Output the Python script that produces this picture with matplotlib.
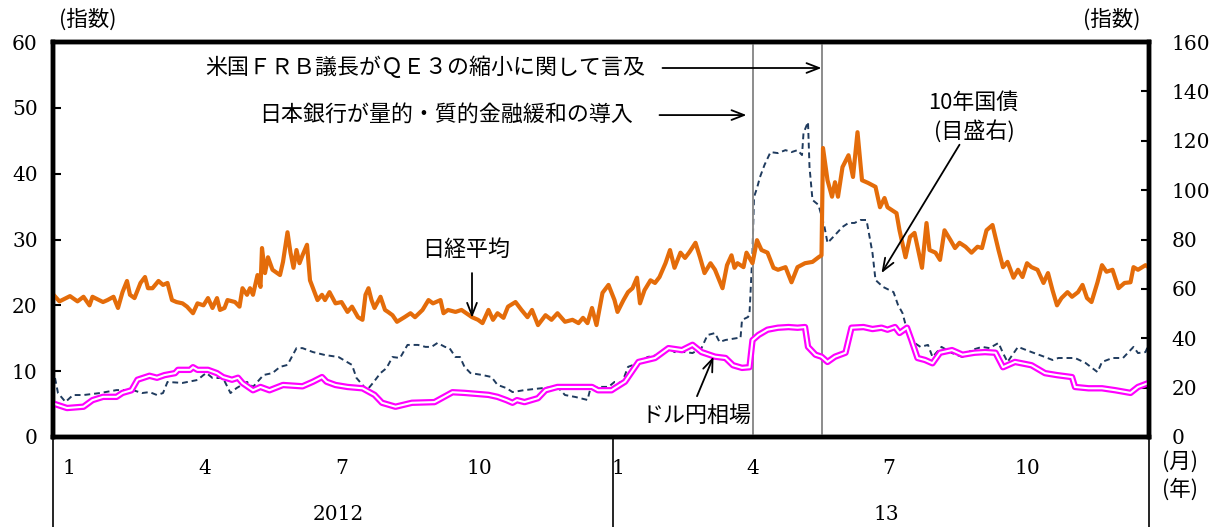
import numpy as np
import matplotlib
matplotlib.use("Agg")
import matplotlib.pyplot as plt

JP = ['Noto Sans CJK JP', 'DejaVu Sans']
NUM = ['DejaVu Serif']

# Days counted from 2012-01-01
nikkei_day = [-7, -3, 4, 9, 13, 17, 19, 26, 29, 33, 36, 39, 42, 44, 47, 51, 54, 56, 59, 63,
              66, 69, 72, 75, 79, 82, 86, 89, 93, 96, 99, 102, 104, 107, 109, 114, 117, 119, 122, 124,
              126, 129, 131, 132, 134, 136, 139, 144, 146, 149, 151, 153, 155, 157, 159, 162, 164, 169, 172, 174,
              177, 181, 185, 189, 192, 196, 199, 201, 203, 205, 207, 211, 214, 216, 219, 222, 227, 231, 234, 239,
              243, 246, 251, 253, 256, 261, 265, 272, 276, 279, 283, 286, 289, 293, 296, 301, 305, 309, 312, 316,
              321, 325, 329, 334, 339, 343, 346, 349, 352, 355, 359, 363, 367, 369, 373, 376, 379, 382, 384, 387,
              391, 394, 397, 401, 404, 407, 411, 414, 417, 421, 424, 427, 431, 434, 439, 442, 445, 447, 449, 453,
              455, 459, 462, 465, 469, 473, 476, 481, 485, 489, 494, 499, 503, 505, 506, 509, 512, 514, 516, 519,
              523, 526, 529, 532, 536, 541, 544, 547, 549, 555, 557, 561, 564, 567, 572, 575, 577, 581, 584, 587,
              591, 594, 597, 601, 605, 609, 612, 615, 619, 623, 626, 629, 633, 636, 639, 642, 645, 649, 653, 656,
              659, 662, 665, 669, 672, 676, 679, 682, 685, 689, 692, 695, 699, 703, 707, 711, 713, 716, 721, 723]
nikkei_vol = [21.6, 20.6, 21.4, 20.6, 21.3, 20.0, 21.3, 20.5, 20.8, 21.3, 19.6, 22.0, 23.7, 21.6, 21.1, 23.4, 24.3, 22.6, 22.6, 23.7,
              23.1, 23.4, 20.8, 20.5, 20.3, 19.8, 18.8, 20.3, 20.0, 21.1, 19.6, 21.1, 19.3, 19.6, 20.8, 20.5, 19.8, 22.6, 21.6, 22.6,
              21.6, 24.6, 22.8, 28.7, 24.9, 27.3, 25.4, 24.6, 26.6, 31.1, 28.0, 25.7, 28.4, 26.4, 27.6, 29.2, 23.8, 20.8, 21.6, 20.8,
              22.0, 20.3, 20.5, 19.0, 19.8, 18.2, 17.8, 21.6, 22.6, 20.8, 19.6, 21.3, 19.3, 19.0, 18.5, 17.5, 18.2, 18.8, 18.2, 19.3,
              20.8, 20.3, 20.8, 18.8, 19.3, 19.0, 19.3, 18.2, 17.8, 17.3, 19.3, 17.8, 18.8, 18.1, 19.8, 20.5, 19.3, 18.2, 19.3, 17.0,
              18.5, 17.8, 18.8, 17.5, 17.8, 17.3, 18.1, 17.3, 19.6, 17.0, 21.9, 23.1, 20.8, 19.0, 20.8, 22.0, 22.6, 24.2, 20.3, 22.3,
              23.8, 23.4, 24.3, 26.4, 28.4, 25.7, 28.0, 27.2, 28.1, 29.5, 27.3, 24.9, 26.4, 25.4, 22.6, 26.1, 27.6, 25.7, 26.4, 25.8,
              28.0, 26.4, 29.9, 28.4, 28.0, 25.7, 25.4, 25.8, 23.5, 25.8, 26.4, 26.6, 27.3, 27.6, 43.9, 39.0, 36.5, 38.7, 36.5, 41.0,
              42.8, 39.5, 46.3, 39.0, 38.6, 38.0, 34.9, 36.3, 34.9, 34.0, 31.4, 27.3, 30.4, 31.0, 25.7, 32.5, 28.4, 28.0, 26.9, 31.4,
              29.9, 28.7, 29.5, 28.9, 28.0, 28.9, 28.7, 31.4, 32.2, 28.4, 25.8, 26.6, 24.2, 25.4, 24.3, 26.4, 25.8, 25.4, 23.4, 24.9,
              22.3, 20.0, 21.1, 22.0, 21.3, 22.0, 23.1, 21.1, 20.5, 23.5, 26.1, 25.1, 25.4, 22.6, 23.4, 23.5, 25.8, 25.4, 26.1, 25.8]

jgb_day = [-6, -4, 1, 6, 13, 24, 35, 46, 52, 57, 62, 66, 69, 79, 89, 93, 95, 99, 106, 111,
           115, 122, 126, 133, 139, 144, 149, 155, 159, 166, 174, 183, 192, 195, 202, 206, 211, 215, 219, 224,
           229, 236, 241, 245, 249, 254, 257, 261, 264, 267, 271, 279, 285, 289, 295, 299, 307, 319, 329, 334,
           341, 349, 351, 356, 363, 367, 372, 376, 383, 389, 396, 403, 407, 414, 419, 425, 429, 434, 437, 441,
           449, 451, 452, 456, 457, 459, 460, 462, 464, 467, 471, 476, 481, 485, 489, 492, 493, 496, 497, 499,
           503, 507, 509, 514, 519, 523, 527, 531, 535, 539, 541, 546, 553, 556, 559, 562, 566, 571, 576, 579,
           585, 592, 599, 605, 612, 617, 623, 626, 629, 636, 645, 654, 659, 663, 674, 681, 689, 692, 699, 706,
           713, 716, 721, 723]
jgb_vol = [23.9, 17.8, 14.2, 17.0, 17.0, 17.8, 19.0, 19.0, 17.8, 18.2, 17.0, 17.8, 22.3, 21.9, 23.1, 25.1, 25.9, 23.9, 23.9, 17.8,
           19.8, 22.3, 20.3, 25.1, 25.9, 28.4, 29.2, 36.0, 36.0, 34.4, 33.2, 32.4, 29.2, 23.9, 19.0, 21.9, 25.9, 27.9, 32.4, 32.0,
           37.3, 37.3, 36.5, 36.5, 38.1, 36.5, 36.0, 32.4, 32.4, 28.4, 25.9, 25.1, 24.3, 21.1, 19.8, 18.2, 19.0, 19.8, 20.3, 17.0,
           16.2, 15.0, 19.8, 20.3, 20.3, 22.3, 21.9, 28.4, 30.0, 32.4, 33.2, 36.0, 34.4, 34.4, 34.0, 36.0, 41.3, 42.1, 38.5, 39.3,
           40.1, 40.1, 47.4, 48.6, 50.0, 75.0, 97.2, 100.8, 105.3, 110.2, 115.4, 115.0, 116.2, 115.4, 116.2, 114.2, 123.1, 127.6, 109.4, 96.0,
           94.0, 85.1, 78.6, 81.8, 85.1, 86.7, 86.7, 87.9, 87.9, 74.5, 63.6, 60.8, 58.7, 53.5, 50.2, 43.3, 38.5, 36.5, 37.3, 32.4,
           36.5, 34.0, 32.4, 35.2, 36.5, 36.0, 38.1, 34.0, 30.4, 36.5, 34.4, 32.4, 31.2, 32.0, 32.0, 30.0, 26.3, 30.4, 32.0, 32.0,
           36.5, 34.0, 34.4, 37.3]

fx_day = [-6, 2, 13, 19, 26, 35, 39, 45, 49, 57, 62, 67, 74, 76, 84, 86, 89, 96, 102, 106,
          112, 116, 119, 126, 131, 137, 146, 159, 166, 172, 175, 181, 189, 199, 207, 212, 221, 232, 247, 259,
          267, 283, 289, 295, 299, 302, 307, 316, 321, 329, 339, 347, 352, 356, 365, 367, 374, 383, 394, 403,
          412, 419, 425, 434, 441, 446, 452, 457, 459, 463, 469, 476, 483, 489, 494, 496, 501, 505, 509, 514,
          521, 525, 533, 539, 545, 549, 554, 557, 562, 565, 569, 574, 579, 584, 592, 599, 607, 614, 621, 626,
          634, 645, 654, 662, 672, 674, 683, 692, 701, 711, 716, 723]
fx_vol = [5.0, 4.4, 4.6, 5.6, 6.1, 6.1, 6.7, 7.1, 8.7, 9.3, 9.0, 9.4, 9.7, 10.2, 10.2, 10.6, 10.2, 10.2, 9.7, 9.1,
          8.7, 9.0, 8.2, 7.1, 7.6, 7.1, 7.9, 7.7, 8.4, 9.1, 8.4, 7.9, 7.6, 7.4, 6.4, 5.2, 4.6, 5.2, 5.3, 6.8,
          6.7, 6.4, 6.1, 5.6, 5.2, 5.6, 5.3, 5.9, 7.1, 7.6, 7.6, 7.6, 7.6, 7.1, 7.1, 7.4, 8.4, 11.4, 12.0, 13.5,
          13.2, 14.0, 12.9, 12.2, 12.0, 10.9, 10.5, 10.6, 14.7, 15.5, 16.3, 16.6, 16.7, 16.6, 16.7, 13.7, 12.5, 12.2, 11.4, 12.2,
          12.8, 16.6, 16.7, 16.4, 16.6, 16.3, 16.7, 15.8, 16.6, 14.7, 12.0, 11.7, 11.2, 12.8, 13.2, 12.5, 12.8, 12.9, 12.8, 10.6,
          11.4, 10.9, 9.7, 9.4, 9.1, 7.6, 7.4, 7.4, 7.1, 6.7, 7.6, 8.2]

# Policy events: BOJ QQE (2013-04-04), Fed tapering remark (2013-05-22)
event_days = [459, 505]

month_labels = ['1', '4', '7', '10', '1', '4', '7', '10']
month_starts = ['2012-01-01', '2012-04-01', '2012-07-01', '2012-10-01',
                '2013-01-01', '2013-04-01', '2013-07-01', '2013-10-01']
year_labels = ['2012', '13']

left_ticks = [0, 10, 20, 30, 40, 50, 60]
right_ticks = [0, 20, 40, 60, 80, 100, 120, 140, 160]

ORANGE = '#E46C0A'
NAVY = '#1F3B5E'
MAGENTA = '#FF00FF'

W, H = 1211, 527
fig = plt.figure(figsize=(W / 100, H / 100), dpi=100)
L, R, T, B = 53, 1149, 42, 437
ax = fig.add_axes([L / W, 1 - B / H, (R - L) / W, (B - T) / H])
ax2 = ax.twinx()
ax.set_zorder(ax2.get_zorder() + 1)
ax.patch.set_visible(False)

x0 = np.datetime64('2012-01-01')
xmin, xmax = -7.33, 723.33
ax.set_xlim(xmin, xmax)
ax.set_ylim(0, 60)
ax2.set_ylim(0, 160)

# series
ax2.plot(jgb_day, jgb_vol, color=NAVY, lw=1.4, dashes=(3, 2))
ax.plot(nikkei_day, nikkei_vol, color=ORANGE, lw=3.0, solid_joinstyle='round')
ax.plot(fx_day, fx_vol, color=MAGENTA, lw=4.6, solid_joinstyle='round')
ax.plot(fx_day, fx_vol, color='white', lw=1.5, solid_joinstyle='round')

for d in event_days:
    ax.axvline(d, color='#8C8C8C', lw=1.4, zorder=1)

# frame and ticks
for ax_ in (ax, ax2):
    for s in ax_.spines.values():
        s.set_linewidth(3.2)
        s.set_color('black')
ax.set_yticks(left_ticks)
ax.set_yticklabels([str(v) for v in left_ticks], family=NUM, fontsize=14.5)
ax2.set_yticks(right_ticks)
ax2.set_yticklabels([str(v) for v in right_ticks], family=NUM, fontsize=14.5)
ax.tick_params(axis='y', direction='in', length=6, width=1.5, pad=11)
ax2.tick_params(axis='y', direction='in', length=6, width=1.5, pad=16)

mpos = [(np.datetime64(m) - x0).astype(int) + 3 for m in month_starts]
ax.set_xticks(mpos)
ax.set_xticklabels(month_labels, family=NUM, fontsize=14.5)
ax.tick_params(axis='x', length=0, pad=16)

xt = ax.get_xaxis_transform()
for d in [xmin, 366, xmax]:
    ax.plot([d, d], [0, -0.24], color='black', lw=1.2, transform=xt, clip_on=False)
ax.text(183, -0.197, year_labels[0], transform=xt, ha='center', va='center', family=NUM, fontsize=14.5)
ax.text(548, -0.197, year_labels[1], transform=xt, ha='center', va='center', family=NUM, fontsize=14.5)

ax.text(1.028, -0.063, '(月)', transform=ax.transAxes, ha='center', va='center', family=JP, fontsize=15.5)
ax.text(1.028, -0.134, '(年)', transform=ax.transAxes, ha='center', va='center', family=JP, fontsize=15.5)
ax.text(0.032, 1.056, '(指数)', transform=ax.transAxes, ha='center', va='center', family=JP, fontsize=15.5)
ax.text(0.966, 1.056, '(指数)', transform=ax.transAxes, ha='center', va='center', family=JP, fontsize=15.5)

# annotations
arrow = dict(arrowstyle='->,head_length=0.9,head_width=0.35', color='black', lw=1.3,
             shrinkA=0, shrinkB=0)
JPS = 15.8
ax.text(241, 56.05, '米国ＦＲＢ議長がＱＥ３の縮小に関して言及', ha='center', va='center',
        family=JP, fontsize=JPS)
ax.annotate('', xy=(event_days[1], 56.05), xytext=(399, 56.05), arrowprops=arrow)
ax.text(255, 48.9, '日本銀行が量的・質的金融緩和の導入', ha='center', va='center',
        family=JP, fontsize=JPS)
ax.annotate('', xy=(event_days[0] - 4, 48.9), xytext=(397, 48.9), arrowprops=arrow)
ax.text(268, 28.4, '日経平均', ha='center', va='center', family=JP, fontsize=JPS)
ax.annotate('', xy=(272, 18.1), xytext=(272, 24.9), arrowprops=arrow)
ax.text(422, 3.2, 'ドル円相場', ha='center', va='center', family=JP, fontsize=JPS)
ax.annotate('', xy=(433, 12.2), xytext=(422, 6.2), arrowprops=arrow)
ax.text(606, 50.7, '10年国債', ha='center', va='center', family=JP, fontsize=JPS)
ax.text(607, 46.5, '(目盛右)', ha='center', va='center', family=JP, fontsize=JPS)
ax.annotate('', xy=(545, 24.9), xytext=(597, 44.4), arrowprops=arrow)

fig.savefig('out.png', dpi=100)
